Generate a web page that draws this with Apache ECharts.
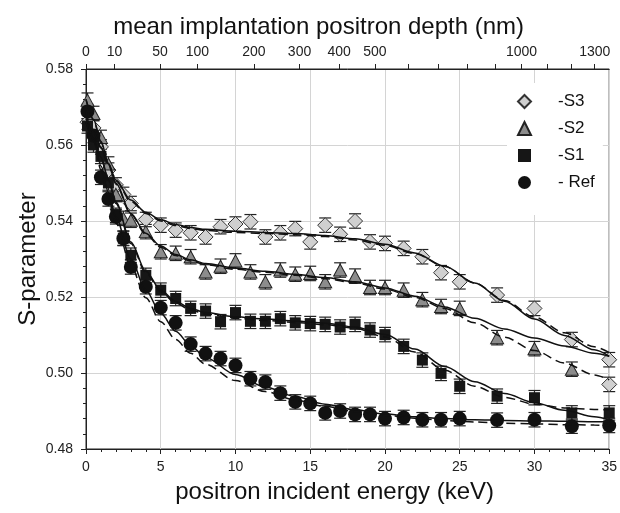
<!DOCTYPE html>
<html>
<head>
<meta charset="utf-8">
<script src="https://cdn.jsdelivr.net/npm/echarts@6/dist/echarts.min.js"></script>
<style>
  html, body { margin: 0; padding: 0; background: #fff; }
  #chart { width: 620px; height: 513px; }
</style>
</head>
<body>
<div id="chart"></div>
<script>
// measured points (keV, S)
var energies = [0.1, 0.5, 1, 1.5, 2, 2.5, 3, 4, 5, 6, 7, 8, 9, 10, 11, 12, 13, 14, 15, 16, 17, 18, 19, 20, 21.25, 22.5, 23.75, 25, 27.5, 30, 32.5, 35];
var sRef = [0.5688, 0.5625, 0.5515, 0.5458, 0.5411, 0.5354, 0.5279, 0.5227, 0.5172, 0.5132, 0.5076, 0.5051, 0.5038, 0.5020, 0.4985, 0.4976, 0.4947, 0.4924, 0.4920, 0.4895, 0.4900, 0.4891, 0.4891, 0.4880, 0.4883, 0.4877, 0.4877, 0.4880, 0.4876, 0.4877, 0.4860, 0.4862];
var sS1 = [0.5650, 0.5600, 0.5570, 0.5500, 0.5415, 0.5355, 0.5310, 0.5257, 0.5218, 0.5196, 0.5170, 0.5163, 0.5135, 0.5159, 0.5136, 0.5136, 0.5143, 0.5132, 0.5130, 0.5128, 0.5121, 0.5128, 0.5113, 0.5101, 0.5070, 0.5034, 0.4999, 0.4965, 0.4939, 0.4935, 0.4895, 0.4895];
var sS2 = [0.5718, 0.5683, 0.5620, 0.5550, 0.5470, 0.5407, 0.5402, 0.5372, 0.5319, 0.5315, 0.5306, 0.5266, 0.5281, 0.5295, 0.5266, 0.5240, 0.5271, 0.5260, 0.5262, 0.5240, 0.5271, 0.5255, 0.5225, 0.5225, 0.5218, 0.5193, 0.5175, 0.5170, 0.5093, 0.5064, 0.5010, 0.4970];
var sS3 = [0.5660, 0.5645, 0.5595, 0.5534, 0.5495, 0.5470, 0.5446, 0.5404, 0.5389, 0.5376, 0.5369, 0.5358, 0.5385, 0.5392, 0.5398, 0.5358, 0.5369, 0.5380, 0.5345, 0.5389, 0.5365, 0.5400, 0.5345, 0.5341, 0.5328, 0.5306, 0.5264, 0.5240, 0.5205, 0.5170, 0.5088, 0.5035];
var errBar = 0.0019;

// fitted curves
var fitE = [0, 0.5, 1, 1.5, 2, 3, 4, 5, 6, 7, 8, 10, 12, 14, 16, 18, 20, 22, 24, 26, 28, 30, 32, 34, 35];
var fitRef = [0.5690, 0.5618, 0.5545, 0.5475, 0.5410, 0.5300, 0.5218, 0.5157, 0.5110, 0.5072, 0.5041, 0.4996, 0.4963, 0.4938, 0.4918, 0.4903, 0.4892, 0.4885, 0.4880, 0.4877, 0.4875, 0.4874, 0.4873, 0.4872, 0.4872];
var fitRefDash = [0.5690, 0.5612, 0.5535, 0.5462, 0.5395, 0.5282, 0.5198, 0.5135, 0.5088, 0.5052, 0.5023, 0.4980, 0.4951, 0.4929, 0.4912, 0.4899, 0.4889, 0.4881, 0.4875, 0.4871, 0.4868, 0.4866, 0.4864, 0.4863, 0.4862];
var fitS1 = [0.5660, 0.5618, 0.5568, 0.5510, 0.5450, 0.5345, 0.5268, 0.5218, 0.5188, 0.5170, 0.5159, 0.5148, 0.5142, 0.5137, 0.5131, 0.5121, 0.5101, 0.5063, 0.5017, 0.4977, 0.4946, 0.4922, 0.4902, 0.4885, 0.4877];
var fitS1Dash = [0.5660, 0.5616, 0.5565, 0.5506, 0.5446, 0.5341, 0.5264, 0.5214, 0.5184, 0.5166, 0.5155, 0.5144, 0.5138, 0.5133, 0.5127, 0.5118, 0.5095, 0.5055, 0.5007, 0.4965, 0.4936, 0.4918, 0.4908, 0.4904, 0.4903];
var fitS2 = [0.5720, 0.5668, 0.5610, 0.5552, 0.5500, 0.5420, 0.5368, 0.5334, 0.5312, 0.5298, 0.5288, 0.5276, 0.5268, 0.5260, 0.5251, 0.5240, 0.5224, 0.5202, 0.5174, 0.5144, 0.5116, 0.5092, 0.5071, 0.5052, 0.5044];
var fitS2Dash = [0.5720, 0.5666, 0.5607, 0.5549, 0.5497, 0.5417, 0.5365, 0.5331, 0.5309, 0.5295, 0.5285, 0.5273, 0.5265, 0.5257, 0.5248, 0.5237, 0.5221, 0.5199, 0.5170, 0.5132, 0.5094, 0.5059, 0.5026, 0.4995, 0.4982];
var fitS3 = [0.5670, 0.5636, 0.5595, 0.5550, 0.5508, 0.5455, 0.5423, 0.5403, 0.5391, 0.5383, 0.5378, 0.5373, 0.5370, 0.5367, 0.5362, 0.5353, 0.5339, 0.5316, 0.5281, 0.5237, 0.5189, 0.5142, 0.5099, 0.5061, 0.5044];
var fitS3Dash = [0.5670, 0.5634, 0.5592, 0.5547, 0.5505, 0.5452, 0.5420, 0.5400, 0.5388, 0.5380, 0.5375, 0.5370, 0.5367, 0.5364, 0.5359, 0.5350, 0.5336, 0.5314, 0.5280, 0.5237, 0.5191, 0.5147, 0.5106, 0.5069, 0.5054];

// top scale: mean implantation depth (nm)
var depthTicks = [0, 10, 50, 100, 200, 300, 400, 500, 600, 700, 800, 900, 1000, 1100, 1200, 1300];
var depthLabels = [0, 10, 50, 100, 200, 300, 400, 500, 1000, 1300];

var FONT = '"Liberation Sans", Arial, Helvetica, sans-serif';

// depth -> energy, fitted to where the top ticks sit on the energy axis
function depthToEnergy(z) {
  return 0.488 * Math.pow(z, 0.592);
}
function energyToDepth(e) {
  return Math.round(Math.pow(e / 0.488, 1 / 0.592));
}

function pairs(xs, ys) {
  return xs.map(function (x, i) { return [x, ys[i]]; });
}

function errorSeries(vals) {
  return {
    type: 'custom',
    z: 2,
    silent: true,
    data: energies.map(function (e, i) { return [e, vals[i] - errBar, vals[i] + errBar]; }),
    encode: { x: 0, y: [1, 2] },
    renderItem: function (params, api) {
      var lo = api.coord([api.value(0), api.value(1)]);
      var hi = api.coord([api.value(0), api.value(2)]);
      var w = 6;
      var st = { stroke: '#222', lineWidth: 1.2 };
      return {
        type: 'group',
        children: [
          { type: 'line', shape: { x1: lo[0], y1: lo[1], x2: hi[0], y2: hi[1] }, style: st },
          { type: 'line', shape: { x1: lo[0] - w, y1: lo[1], x2: lo[0] + w, y2: lo[1] }, style: st },
          { type: 'line', shape: { x1: hi[0] - w, y1: hi[1], x2: hi[0] + w, y2: hi[1] }, style: st }
        ]
      };
    }
  };
}

function fitSeries(ys, dashed) {
  return {
    type: 'line',
    z: 4,
    silent: true,
    data: pairs(fitE, ys),
    showSymbol: false,
    smooth: 0.3,
    smoothMonotone: 'x',
    lineStyle: { color: '#111', width: 1.5, type: dashed ? [9, 5] : 'solid' }
  };
}

var s3Style = { color: '#d0d0d0', borderColor: '#333', borderWidth: 1, opacity: 1 };

// the last S2 point is drawn with the S3 diamond in the figure
var s2Data = pairs(energies, sS2).map(function (p, i) {
  if (i === sS2.length - 1) {
    return { value: p, symbol: 'diamond', symbolSize: 15, itemStyle: s3Style };
  }
  return p;
});

var chart = echarts.init(document.getElementById('chart'));
chart.setOption({
  animation: false,
  textStyle: { fontFamily: FONT },
  grid: { left: 86, right: 7, top: 69, bottom: 64, show: true, borderColor: '#222', borderWidth: 1 },
  legend: {
    data: ['-S3', '-S2', '-S1', '- Ref'],
    orient: 'vertical',
    left: 507,
    top: 83,
    backgroundColor: '#fff',
    padding: [10, 8, 24, 10],
    itemWidth: 13,
    itemHeight: 13,
    itemGap: 10,
    selectedMode: false,
    textStyle: { fontSize: 17, color: '#111', fontFamily: FONT, padding: [0, 0, 0, 22] }
  },
  xAxis: [{
    type: 'value',
    position: 'bottom',
    min: 0,
    max: 35,
    interval: 5,
    name: 'positron incident energy (keV)',
    nameLocation: 'middle',
    nameGap: 31,
    nameTextStyle: { fontSize: 24, color: '#111', fontFamily: FONT, padding: [0, 26, 0, 0] },
    axisLine: { lineStyle: { color: '#222', width: 1 } },
    axisTick: { show: true, length: 5, lineStyle: { color: '#222' } },
    minorTick: { show: true, splitNumber: 5, length: 3, lineStyle: { color: '#222' } },
    axisLabel: { fontSize: 14, color: '#222', margin: 11, fontFamily: FONT },
    splitLine: { show: true, lineStyle: { color: '#d4d4d4', width: 1 } }
  }, {
    type: 'value',
    position: 'top',
    min: 0,
    max: 35,
    name: 'mean implantation positron depth (nm)',
    nameLocation: 'middle',
    nameGap: 30,
    nameTextStyle: { fontSize: 24, color: '#111', fontFamily: FONT, padding: [0, 58, 0, 0] },
    axisLine: { lineStyle: { color: '#222', width: 1 } },
    axisTick: { show: true, length: 5, lineStyle: { color: '#222' }, customValues: depthTicks.map(depthToEnergy) },
    axisLabel: {
      fontSize: 14, color: '#222', margin: 10, fontFamily: FONT,
      customValues: depthLabels.map(depthToEnergy),
      formatter: function (v) { return String(energyToDepth(v)); }
    },
    splitLine: { show: false }
  }],
  yAxis: [{
    type: 'value',
    min: 0.48,
    max: 0.58,
    interval: 0.02,
    name: 'S-parameter',
    nameLocation: 'middle',
    nameGap: 46,
    nameMoveOverlap: false,
    nameTextStyle: { fontSize: 24, color: '#111', fontFamily: FONT },
    axisLine: { show: true, lineStyle: { color: '#222', width: 1 } },
    axisTick: { show: true, length: 5, lineStyle: { color: '#222' } },
    minorTick: { show: true, splitNumber: 5, length: 3, lineStyle: { color: '#222' } },
    axisLabel: { fontSize: 14, color: '#222', margin: 13, fontFamily: FONT, formatter: function (v) { return v.toFixed(2); } },
    splitLine: { show: true, lineStyle: { color: '#d4d4d4', width: 1 } }
  }],
  series: [
    errorSeries(sS3), errorSeries(sS2), errorSeries(sS1), errorSeries(sRef),
    { name: '-S3', type: 'scatter', z: 3, data: pairs(energies, sS3), symbol: 'diamond', symbolSize: 15, itemStyle: s3Style },
    { name: '-S2', type: 'scatter', z: 3, data: s2Data, symbol: 'triangle', symbolSize: [13, 12], itemStyle: { color: '#8c8c8c', borderColor: '#222', borderWidth: 1, opacity: 1 } },
    { name: '-S1', type: 'scatter', z: 3, data: pairs(energies, sS1), symbol: 'rect', symbolSize: 11, itemStyle: { color: '#161616', opacity: 1 } },
    { name: '- Ref', type: 'scatter', z: 3, data: pairs(energies, sRef), symbol: 'circle', symbolSize: 14, itemStyle: { color: '#111', opacity: 1 } },
    fitSeries(fitS3, false), fitSeries(fitS3Dash, true),
    fitSeries(fitS2, false), fitSeries(fitS2Dash, true),
    fitSeries(fitS1, false), fitSeries(fitS1Dash, true),
    fitSeries(fitRef, false), fitSeries(fitRefDash, true)
  ]
});
</script>
</body>
</html>
